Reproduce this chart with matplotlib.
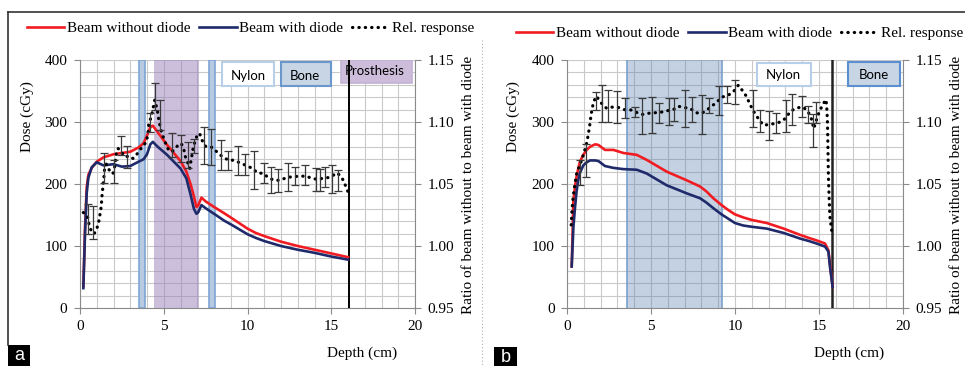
import matplotlib
matplotlib.use('Agg')
import matplotlib.pyplot as plt
from matplotlib.ticker import MultipleLocator, FormatStrFormatter
from matplotlib.patches import Rectangle
from matplotlib.lines import Line2D

# ---------------- Panel a data ----------------
depth_a = [0.2, 0.3, 0.4, 0.5, 0.7, 1.0, 1.4, 2.0, 2.5, 3.0, 3.5, 3.8, 4.0, 4.2, 4.35,
           4.6, 4.9, 5.2, 5.6, 6.0, 6.35, 6.6, 6.8, 6.95, 7.05, 7.25, 7.5, 8.0, 8.6,
           9.0, 9.5, 10.0, 10.5, 11.0, 12.0, 13.0, 14.0, 15.0, 16.0]
dose_a_without = [35, 130, 195, 215, 226, 236, 243, 248, 250, 252, 259, 266, 278, 292, 294,
                  285, 274, 263, 250, 237, 220, 200, 180, 163, 165, 178, 172, 163, 153,
                  146, 137, 128, 121, 116, 107, 100, 94, 88, 82]
dose_a_with = [32, 120, 185, 210, 227, 235, 230, 232, 228, 229, 236, 240, 248, 264, 268,
               261, 254, 247, 236, 225, 209, 183, 160, 152, 154, 166, 161, 152, 141,
               135, 127, 119, 113, 108, 100, 94, 89, 83, 78]

ratio_depth_a = [0.2, 0.44, 0.55, 0.7, 0.85, 1.0, 1.1, 1.17, 1.27, 1.31, 1.37, 1.43, 1.47,
                 1.57, 1.67, 1.87, 1.97, 2.07, 2.17, 2.27, 2.47, 2.67, 2.97, 3.16, 3.36,
                 3.56, 3.76, 3.96, 4.06, 4.1, 4.22, 4.3, 4.36, 4.46, 4.52, 4.6, 4.66, 4.72,
                 4.86, 5.02, 5.15, 5.29, 5.49, 5.65, 5.85, 6.05, 6.21, 6.29, 6.45, 6.55,
                 6.65, 6.75, 6.89, 7.0, 7.14, 7.28, 7.52, 7.92, 8.26, 8.52, 8.86, 9.21,
                 9.55, 9.91, 10.31, 10.59, 10.95, 11.24, 11.58, 11.94, 12.34, 12.64, 13.1,
                 13.49, 13.89, 14.23, 14.43, 14.83, 15.12, 15.32, 15.52, 15.72, 15.88, 16.02]
ratio_a = [1.027, 1.024, 1.017, 1.011, 1.010, 1.014, 1.018, 1.0235, 1.032, 1.040, 1.048,
           1.056, 1.0625, 1.066, 1.063, 1.0585, 1.0585, 1.064, 1.0746, 1.0787, 1.076, 1.072,
           1.0725, 1.0706, 1.0733, 1.0773, 1.0805, 1.084, 1.0908, 1.0975, 1.103, 1.107,
           1.111, 1.1177, 1.1144, 1.111, 1.1056, 1.1002, 1.092, 1.086, 1.0813, 1.0773,
           1.076, 1.078, 1.0813, 1.0827, 1.0773, 1.072, 1.0665, 1.0625, 1.0706, 1.0787,
           1.0854, 1.0894, 1.0908, 1.0854, 1.080, 1.0795, 1.0746, 1.0719, 1.0692, 1.0692,
           1.067, 1.065, 1.0625, 1.059, 1.0585, 1.0552, 1.053, 1.053, 1.0552, 1.0558,
           1.0563, 1.0563, 1.0544, 1.0536, 1.0544, 1.0552, 1.057, 1.059, 1.057, 1.053,
           1.0477, 1.043]

err_depth_a = [0.45, 0.8, 1.43, 2.03, 2.43, 2.83, 4.16, 4.46, 4.76, 5.49, 6.05, 6.45, 6.81,
               7.42, 7.84, 8.42, 8.84, 9.41, 9.85, 10.4, 11.0, 11.4, 11.84, 12.44, 12.84,
               13.43, 14.09, 14.3, 14.63, 15.03, 15.38]
err_center_a = [1.022, 1.019, 1.063, 1.060, 1.081, 1.072, 1.0995, 1.1206, 1.1056, 1.0814,
                1.0788, 1.0733, 1.0806, 1.0808, 1.080, 1.0733, 1.069, 1.0689, 1.0656,
                1.0614, 1.0586, 1.0535, 1.0527, 1.0556, 1.0565, 1.0572, 1.0536, 1.0531,
                1.0559, 1.0542, 1.0529]
err_half_a = [0.012, 0.013, 0.012, 0.009, 0.008, 0.009, 0.0075, 0.011, 0.012, 0.0094,
              0.0108, 0.0107, 0.006, 0.015, 0.0145, 0.0121, 0.0078, 0.0117, 0.0084, 0.0155,
              0.008, 0.0105, 0.009, 0.011, 0.0074, 0.0081, 0.009, 0.0086, 0.0081, 0.0112,
              0.0083]

# ---------------- Panel b data ----------------
depth_b = [0.28, 0.38, 0.47, 0.57, 0.67, 0.77, 0.97, 1.17, 1.37, 1.67, 1.87, 2.26, 2.76,
           3.36, 4.15, 4.74, 5.93, 7.12, 7.92, 8.3, 8.71, 9.2, 9.6, 10.0, 10.5, 11.0, 11.9,
           12.9, 13.87, 14.4, 14.86, 15.36, 15.56, 15.65, 15.81]
dose_b_without = [67, 172, 195, 212, 225, 236, 247, 255, 260, 264, 263, 255, 255, 250, 247,
                  239, 220, 206, 196, 188, 177, 166, 158, 151, 146, 142, 137, 128, 118, 113,
                  109, 104, 93, 72, 34]
dose_b_with = [67, 130, 160, 188, 206, 218, 230, 235, 238, 238, 237, 229, 226, 224, 223,
               217, 198, 185, 177, 170, 161, 151, 144, 137, 133, 131, 128, 121, 112, 108,
               104, 99, 91, 67, 34]

ratio_depth_b = [0.25, 0.3, 0.37, 0.47, 0.57, 0.67, 0.87, 1.03, 1.17, 1.27, 1.37, 1.43, 1.51,
                 1.63, 1.77, 1.9, 2.06, 2.36, 2.66, 3.06, 3.41, 3.75, 4.09, 4.44, 4.84, 5.2,
                 5.63, 5.93, 6.33, 6.63, 6.93, 7.32, 7.72, 8.02, 8.31, 8.61, 8.91, 9.21, 9.6,
                 9.9, 10.2, 10.5, 10.7, 10.85, 11.05, 11.25, 11.45, 11.69, 12.04, 12.38,
                 12.72, 13.04, 13.27, 13.57, 13.97, 14.27, 14.46, 14.62, 14.66, 14.76, 14.9,
                 15.06, 15.26, 15.42, 15.46, 15.5, 15.52, 15.54, 15.56, 15.6, 15.65, 15.75]
ratio_b = [1.017, 1.030, 1.040, 1.050, 1.058, 1.062, 1.069, 1.076, 1.083, 1.090, 1.099,
           1.1055, 1.112, 1.1176, 1.1208, 1.1176, 1.115, 1.111, 1.112, 1.1117, 1.110, 1.110,
           1.108, 1.106, 1.107, 1.1074, 1.108, 1.109, 1.110, 1.1127, 1.1117, 1.111, 1.1074,
           1.107, 1.1095, 1.1127, 1.116, 1.120, 1.1216, 1.1243, 1.1297, 1.1243, 1.1203,
           1.1154, 1.110, 1.1055, 1.1015, 1.0974, 1.098, 1.0988, 1.1001, 1.1033, 1.1082,
           1.1108, 1.1122, 1.110, 1.1055, 1.1001, 1.0947, 1.0974, 1.1042, 1.1095, 1.1149,
           1.118, 1.1123, 1.1015, 1.088, 1.072, 1.0558, 1.0396, 1.0235, 1.0127]

err_depth_b = [0.77, 1.13, 1.70, 2.06, 2.46, 3.0, 3.45, 4.05, 4.48, 5.04, 5.5, 6.07, 6.39,
               7.02, 7.42, 8.06, 8.45, 9.05, 9.5, 10.0, 11.05, 11.49, 12.04, 12.44, 13.04,
               13.37, 13.97, 14.37, 14.62, 14.82]
err_center_b = [1.059, 1.069, 1.117, 1.115, 1.113, 1.112, 1.111, 1.108, 1.105, 1.1056,
                1.107, 1.1087, 1.110, 1.1106, 1.110, 1.106, 1.113, 1.117, 1.122, 1.1245,
                1.111, 1.101, 1.097, 1.099, 1.105, 1.110, 1.1125, 1.106, 1.093, 1.1075]
err_half_b = [0.010, 0.013, 0.007, 0.015, 0.013, 0.013, 0.008, 0.0043, 0.0145, 0.0145,
              0.008, 0.011, 0.009, 0.015, 0.010, 0.0155, 0.006, 0.0117, 0.007, 0.0096,
              0.015, 0.009, 0.0115, 0.008, 0.013, 0.0125, 0.0083, 0.007, 0.0134, 0.0087]

legend_labels = ['Beam without diode', 'Beam with diode', 'Rel. response']
x_label = 'Depth (cm)'
y_label = 'Dose (cGy)'
y2_label = 'Ratio of beam without to beam with diode'

# ---------------- Drawing ----------------
W, H = 965, 366
plt.rcParams['font.family'] = ['Liberation Serif', 'DejaVu Serif']
fig = plt.figure(figsize=(W / 100, H / 100), dpi=100)

def fx(px):
    return px / W

def fy(py):
    return 1 - py / H

RED = '#f01c22'
NAVY = '#1f2a6b'
GRID = '#c9c9c9'
AXC = '#8a8a8a'
SANS = ['Lato', 'DejaVu Sans']
DOT_LS = (0, (0.1, 1.9))


def panel(left_px, right_px, depth, red, blue, rdepth, ratio, edepth, ecent, ehalf,
          legend_x, legend_y, ylab_x, ylab_y, y2lab_x, xlab_x):
    ax = fig.add_axes([fx(left_px), fy(308), (right_px - left_px) / W, 248 / H])
    ax.set_xlim(0, 20)
    ax.set_ylim(0, 400)
    ax.xaxis.set_major_locator(MultipleLocator(5))
    ax.xaxis.set_minor_locator(MultipleLocator(1))
    ax.yaxis.set_major_locator(MultipleLocator(100))
    ax.yaxis.set_minor_locator(MultipleLocator(20))
    ax.set_axisbelow(True)
    ax.grid(which='both', color=GRID, lw=0.8)
    for s in ['top', 'right']:
        ax.spines[s].set_visible(False)
    for s in ['left', 'bottom']:
        ax.spines[s].set_color(AXC)
    ax.tick_params(which='major', length=4, color=AXC, labelsize=11, pad=5)
    ax.tick_params(which='minor', length=0)

    ax2 = ax.twinx()
    ax2.set_ylim(0.95, 1.15)
    ax2.yaxis.set_major_locator(MultipleLocator(0.05))
    ax2.yaxis.set_major_formatter(FormatStrFormatter('%.2f'))
    for s in ['top', 'left', 'bottom']:
        ax2.spines[s].set_visible(False)
    ax2.spines['right'].set_color(AXC)
    ax2.tick_params(which='major', length=4, color=AXC, labelsize=11, pad=5)

    l1, = ax.plot(depth, red, color=RED, lw=1.9, zorder=4, solid_joinstyle='round')
    l2, = ax.plot(depth, blue, color=NAVY, lw=1.9, zorder=4, solid_joinstyle='round')
    l3, = ax2.plot(rdepth, ratio, color='k', lw=2.3, ls=DOT_LS,
                   dash_capstyle='round', zorder=5)
    ax2.errorbar(edepth, ecent, yerr=ehalf, fmt='none', ecolor='#3a3a3a',
                 elinewidth=0.9, capsize=2.6, capthick=0.9, zorder=5)

    fig.legend([l1, l2, l3], legend_labels, loc='center left',
               bbox_to_anchor=(fx(legend_x), fy(legend_y)), ncol=3, frameon=False,
               fontsize=11, handlelength=2.45, handletextpad=0.15,
               columnspacing=0.6, borderpad=0, borderaxespad=0)

    fig.text(fx(ylab_x), fy(ylab_y), y_label, rotation=90, ha='center', va='center',
             fontsize=11)
    fig.text(fx(y2lab_x), fy(185), y2_label, rotation=90, ha='center', va='center',
             fontsize=11)
    fig.text(fx(xlab_x), fy(353), x_label, ha='center', va='center', fontsize=11)
    return ax, ax2


# Panel a
ax_a, ax2_a = panel(80, 415, depth_a, dose_a_without, dose_a_with,
                    ratio_depth_a, ratio_a, err_depth_a, err_center_a, err_half_a,
                    27, 28, 27, 117, 469, 362)
for x0, x1 in [(3.52, 3.88), (7.7, 8.06)]:
    ax_a.axvspan(x0, x1, facecolor='#b7cae2', edgecolor='#7ea5d4', lw=1.2, zorder=1)
ax_a.axvspan(4.42, 7.1, facecolor='#9b80bb', edgecolor='none', alpha=0.5, zorder=1)
ax_a.axvline(16.05, color='k', lw=1.4, zorder=3)
ax_a.add_patch(Rectangle((8.5, 358), 3.1, 39, facecolor='white', edgecolor='#b8cfea',
                         lw=1.5, zorder=6))
ax_a.text(10.05, 374, 'Nylon', family=SANS, fontsize=9.5, ha='center', va='center', zorder=7)
ax_a.add_patch(Rectangle((12.0, 358), 3.0, 39, facecolor='#c7d5e5', edgecolor='#6b98cc',
                         lw=1.5, zorder=6))
ax_a.text(13.45, 374, 'Bone', family=SANS, fontsize=9.5, ha='center', va='center', zorder=7)
ax_a.add_patch(Rectangle((15.6, 363), 4.2, 37, facecolor='#cdbdda', edgecolor='#c4b2d6',
                         lw=1.2, zorder=2))
ax_a.text(17.6, 383, 'Prosthesis', family=SANS, fontsize=9.5, ha='center', va='center',
          zorder=7)

# Panel b
ax_b, ax2_b = panel(567, 903, depth_b, dose_b_without, dose_b_with,
                    ratio_depth_b, ratio_b, err_depth_b, err_center_b, err_half_b,
                    516, 33, 513, 117, 956, 849)
ax_b.axvspan(3.57, 9.23, facecolor='#5a80b0', edgecolor='none', alpha=0.36, zorder=1)
ax_b.axvline(3.57, color='#7aa0d0', lw=1.2, zorder=1)
ax_b.axvline(9.23, color='#7aa0d0', lw=1.2, zorder=1)
ax_b.axvline(15.78, color='#222222', lw=1.8, zorder=3)
ax_b.add_patch(Rectangle((11.3, 358), 3.2, 37, facecolor='white', edgecolor='#b8cfea',
                         lw=1.5, zorder=6))
ax_b.text(12.9, 376, 'Nylon', family=SANS, fontsize=9.5, ha='center', va='center', zorder=7)
ax_b.add_patch(Rectangle((16.7, 358), 3.1, 39, facecolor='#c7d5e5', edgecolor='#5b8fd0',
                         lw=1.5, zorder=6))
ax_b.text(18.25, 376, 'Bone', family=SANS, fontsize=9.5, ha='center', va='center', zorder=7)

# Frames and panel letters
fig.add_artist(Line2D([fx(8), fx(965)], [fy(12), fy(12)], color='#333333', lw=1.2))
fig.add_artist(Line2D([fx(8), fx(8)], [fy(12), fy(345)], color='#333333', lw=1.2))
fig.add_artist(Line2D([fx(482), fx(482)], [fy(40), fy(366)], color='#b0b0b0', lw=0.8,
                      ls=(0, (1, 2))))
fig.add_artist(Rectangle((fx(8), fy(366)), 22 / W, 21 / H, transform=fig.transFigure,
                         facecolor='black', edgecolor='none'))
fig.text(fx(19), fy(356), 'a', color='white', family=['Liberation Sans', 'DejaVu Sans'],
         fontsize=13, ha='center', va='center')
fig.add_artist(Rectangle((fx(494), fy(366)), 23 / W, 19 / H, transform=fig.transFigure,
                         facecolor='black', edgecolor='none'))
fig.text(fx(505.5), fy(357), 'b', color='white', family=['Liberation Sans', 'DejaVu Sans'],
         fontsize=13, ha='center', va='center')

fig.savefig('out.png', dpi=100)
